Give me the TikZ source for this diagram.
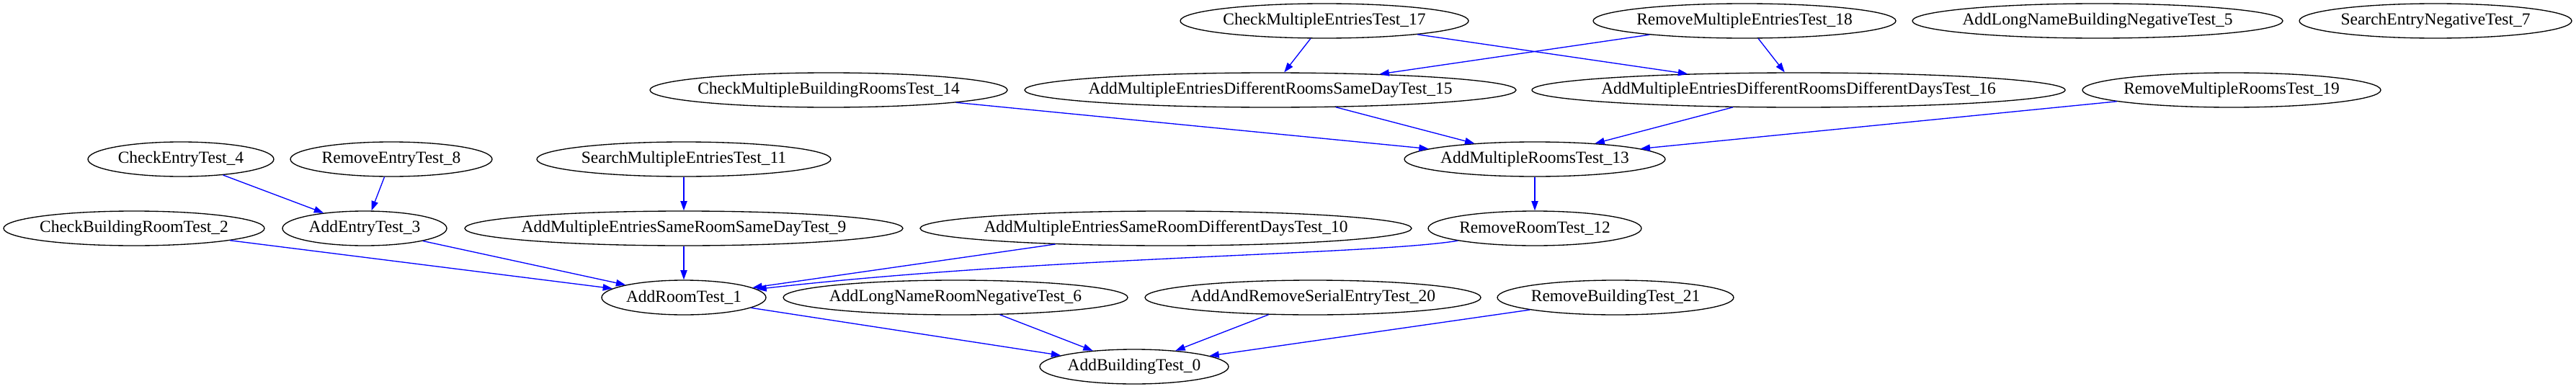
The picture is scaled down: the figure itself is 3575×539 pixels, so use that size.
\documentclass[tikz,border=0pt]{standalone}
\usepackage{fontspec}
\setmainfont{Liberation Serif}
\usetikzlibrary{shapes.geometric,arrows.meta}
\newcommand{\gvfont}{\fontsize{17.6}{19}\selectfont}
\tikzset{
  gv/.style={ellipse, draw=black, line width=1pt, inner sep=0pt, minimum height=36pt, font=\gvfont},
  ed/.style={draw=blue, line width=1pt, -{Triangle[length=10pt,width=7pt]}, shorten >=0pt}
}
\newcommand{\gvn}[4]{\node[gv, minimum width=#4pt] (#1) at (#2) {\makebox[0pt]{#3}};}
\begin{document}
\begin{tikzpicture}[x=0.75pt, y=-0.75pt]
\useasboundingbox (0,0) rectangle (3575,539);
% row 1
\gvn{n17}{1838,29}{CheckMultipleEntriesTest\_17}{300}
\gvn{n18}{2421,29}{RemoveMultipleEntriesTest\_18}{315}
\gvn{n5}{2911,29}{AddLongNameBuildingNegativeTest\_5}{385.5}
\gvn{n7}{3380,29}{SearchEntryNegativeTest\_7}{283.5}
% row 2
\gvn{n14}{1150,125}{CheckMultipleBuildingRoomsTest\_14}{372}
\gvn{n15}{1763,125}{AddMultipleEntriesDifferentRoomsSameDayTest\_15}{511.5}
\gvn{n16}{2496,125}{AddMultipleEntriesDifferentRoomsDifferentDaysTest\_16}{555}
\gvn{n19}{3097,125}{RemoveMultipleRoomsTest\_19}{310.5}
% row 3
\gvn{n4}{251,221}{CheckEntryTest\_4}{193.5}
\gvn{n8}{543,221}{RemoveEntryTest\_8}{210}
\gvn{n11}{949,221}{SearchMultipleEntriesTest\_11}{306}
\gvn{n13}{2130,221}{AddMultipleRoomsTest\_13}{271.5}
% row 4
\gvn{n2}{186,317}{CheckBuildingRoomTest\_2}{271.5}
\gvn{n3}{506,317}{AddEntryTest\_3}{171}
\gvn{n9}{949,317}{AddMultipleEntriesSameRoomSameDayTest\_9}{456}
\gvn{n10}{1618,317}{AddMultipleEntriesSameRoomDifferentDaysTest\_10}{511.5}
\gvn{n12}{2130,317}{RemoveRoomTest\_12}{222}
% row 5
\gvn{n1}{949,413}{AddRoomTest\_1}{171}
\gvn{n6}{1326,413}{AddLongNameRoomNegativeTest\_6}{358.5}
\gvn{n20}{1822,413}{AddAndRemoveSerialEntryTest\_20}{349.5}
\gvn{n21}{2242,413}{RemoveBuildingTest\_21}{246}
% row 6
\gvn{n0}{1574,509}{AddBuildingTest\_0}{196.5}
% edges
\draw[ed] (n17) -- (n15);
\draw[ed] (n17) -- (n16);
\draw[ed] (n18) -- (n15);
\draw[ed] (n18) -- (n16);
\draw[ed] (n14) -- (n13);
\draw[ed] (n15) -- (n13);
\draw[ed] (n16) -- (n13);
\draw[ed] (n19) -- (n13);
\draw[ed] (n4) -- (n3);
\draw[ed] (n8) -- (n3);
\draw[ed] (n11) -- (n9);
\draw[ed] (n13) -- (n12);
\draw[ed] (n2) -- (n1);
\draw[ed] (n3) -- (n1);
\draw[ed] (n9) -- (n1);
\draw[ed] (n10) -- (n1);
\draw[ed] (n12) .. controls (1900,354) and (1450,356) .. (n1);
\draw[ed] (n1) -- (n0);
\draw[ed] (n6) -- (n0);
\draw[ed] (n20) -- (n0);
\draw[ed] (n21) -- (n0);
\end{tikzpicture}
\end{document}
